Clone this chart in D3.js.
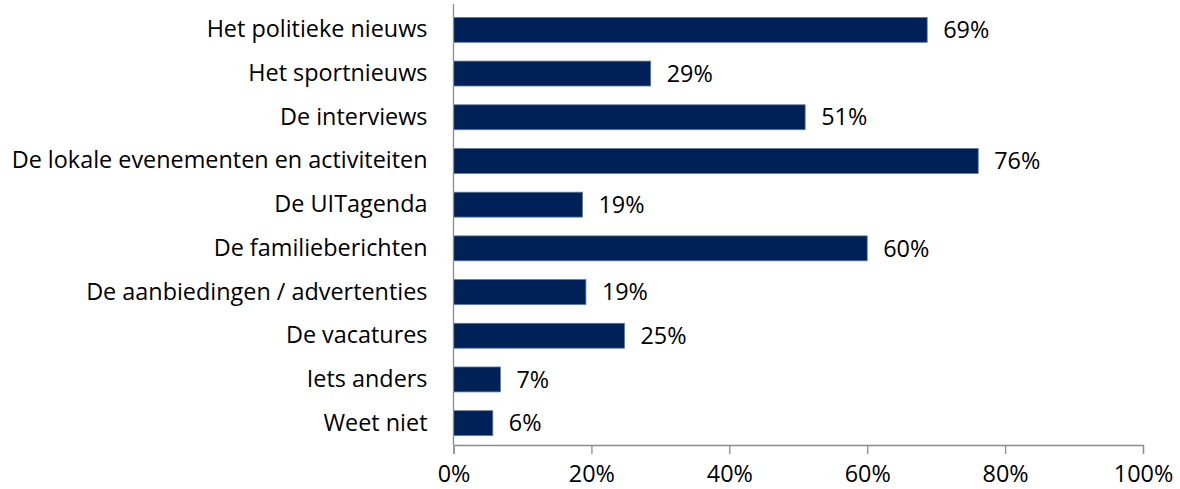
<!DOCTYPE html>
<html>
<head>
<meta charset="utf-8">
<script src="https://cdn.jsdelivr.net/npm/d3@7"></script>
<style>
  body { margin: 0; background: #fff; }
  text { font-family: "Open Sans", sans-serif; fill: #000; }
</style>
</head>
<body>
<div id="chart"></div>
<script>
// categories and values (share of respondents)
var categories = ["Het politieke nieuws", "Het sportnieuws", "De interviews",
  "De lokale evenementen en activiteiten", "De UITagenda", "De familieberichten",
  "De aanbiedingen / advertenties", "De vacatures", "Iets anders", "Weet niet"];
var values = [0.687, 0.286, 0.51, 0.761, 0.187, 0.60, 0.192, 0.248, 0.068, 0.057];
var xTicks = [0, 0.2, 0.4, 0.6, 0.8, 1.0];

var data = categories.map(function(c, i) { return {cat: c, value: values[i]}; });

var fullW = 1180, fullH = 489;
var margin = {top: 8, right: 37, bottom: 44, left: 453.5},
  width = fullW - margin.left - margin.right,
  height = fullH - margin.top - margin.bottom;

var fmt = d3.format(".0%");
var fontSize = "23.4px";

var svg = d3.select("#chart")
  .append("svg")
    .attr("width", fullW)
    .attr("height", fullH)
  .append("g")
    .attr("transform", "translate(" + margin.left + "," + margin.top + ")");

var x = d3.scaleLinear()
  .domain([0, 1])
  .range([0, width]);

var y = d3.scaleBand()
  .domain(categories)
  .range([0, height])
  .paddingInner(0.43)
  .paddingOuter(0.215);

// bars
svg.selectAll("rect.bar")
  .data(data)
  .enter()
  .append("rect")
    .attr("class", "bar")
    .attr("x", 0)
    .attr("y", function(d) { return y(d.cat); })
    .attr("width", function(d) { return x(d.value); })
    .attr("height", y.bandwidth())
    .style("fill", "#002157")
    .style("stroke", "#5d77a3")
    .style("stroke-width", 0.8);

// value labels
svg.selectAll("text.val")
  .data(data)
  .enter()
  .append("text")
    .attr("class", "val")
    .attr("x", function(d) { return x(d.value) + 16; })
    .attr("y", function(d) { return y(d.cat) + y.bandwidth() / 2; })
    .attr("dy", "0.35em")
    .style("font-size", fontSize)
    .text(function(d) { return fmt(d.value); });

// x axis
var xAxis = svg.append("g")
  .attr("transform", "translate(0," + height + ")")
  .call(d3.axisBottom(x).tickValues(xTicks).tickFormat(fmt).tickSizeOuter(0).tickSize(9).tickPadding(11));
xAxis.select(".domain").attr("stroke", "#8c8c8c").attr("stroke-width", 1.3);
xAxis.selectAll(".tick line").attr("stroke", "#8c8c8c").attr("stroke-width", 1.3);
xAxis.selectAll("text").style("font-size", fontSize).style("font-family", "'Open Sans', sans-serif").attr("fill", "#000");

// y axis
var yAxis = svg.append("g")
  .call(d3.axisLeft(y).tickSize(0).tickPadding(26));
yAxis.select(".domain").attr("stroke", "#8c8c8c").attr("stroke-width", 1.3)
  .attr("d", "M0,-4V" + height);
yAxis.selectAll("text").style("font-size", fontSize).style("font-family", "'Open Sans', sans-serif").attr("fill", "#000");
</script>
</body>
</html>
